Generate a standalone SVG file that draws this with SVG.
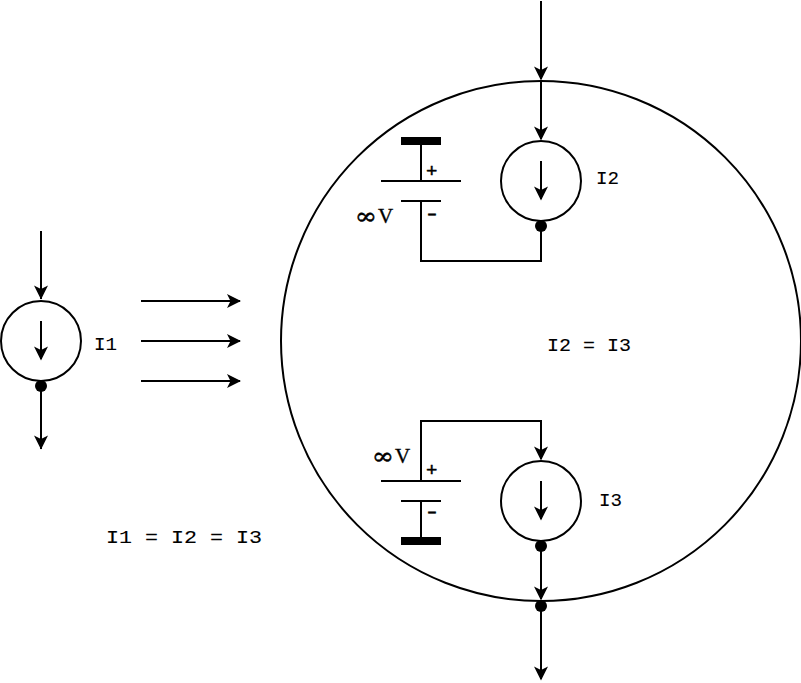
<svg xmlns="http://www.w3.org/2000/svg" width="801" height="683" viewBox="0 0 801 683">
<style>
.w{fill:none;stroke:#000;stroke-width:2}
.f{fill:#fff;stroke:#000;stroke-width:2}
.d{fill:#000;stroke:none}
.a{fill:#000;stroke:none}
.m{font-family:"Liberation Mono",monospace;font-size:18px;fill:#000;stroke:#000;stroke-width:.1}
.p{font-family:"Liberation Mono",monospace;font-size:19px;fill:#000;stroke:#000;stroke-width:.5}
.s{font-family:"Liberation Serif",serif;font-size:21px;fill:#000;stroke:#000;stroke-width:.3}
.i{font-family:"DejaVu Serif",serif;font-size:23px;fill:#000;stroke:#000;stroke-width:.5}
</style>
<defs>
<path id="ah" class="a" d="M0 0.500 L-7 -13.500 L0 -10 L7 -13.500 Z"/>
<path id="ar" class="a" d="M0 0 L-14 -7 L-10.500 0 L-14 7 Z"/>
</defs>
<rect width="801" height="683" fill="#fff"/>
<g id="outer-circle"><circle class="f" cx="541" cy="341" r="260"/></g>
<g id="connectors">
<path class="w" d="M41 231V299"/><use href="#ah" x="41" y="299"/>
<path class="w" d="M41 386V449"/><use href="#ah" x="41" y="449"/>
<path class="w" d="M141 301H240"/><use href="#ar" x="241" y="301"/>
<path class="w" d="M141 341H240"/><use href="#ar" x="241" y="341"/>
<path class="w" d="M141 381H240"/><use href="#ar" x="241" y="381"/>
<path class="w" d="M541 1V79"/><use href="#ah" x="541" y="80"/>
<path class="w" d="M541 80V139"/><use href="#ah" x="541" y="140"/>
<path class="w" d="M421 201V261H541V226"/>
<path class="w" d="M421 481V421H541V459"/><use href="#ah" x="541" y="460"/>
<path class="w" d="M541 546V599"/><use href="#ah" x="541" y="600"/>
<path class="w" d="M541 606V679"/><use href="#ah" x="541" y="680"/>
</g>
<g id="source-i1">
<circle class="f" cx="41" cy="341" r="40"/>
<path class="w" d="M41 321V359"/><use href="#ah" x="41" y="360"/>
<circle class="d" cx="41" cy="386" r="6"/>
<text class="m" x="94" y="350" textLength="23" lengthAdjust="spacingAndGlyphs">I1</text>
</g>
<g id="source-i2">
<circle class="f" cx="541" cy="181" r="40"/>
<path class="w" d="M541 161V199"/><use href="#ah" x="541" y="200"/>
<circle class="d" cx="541" cy="226" r="6"/>
<text class="m" x="596" y="184" textLength="23" lengthAdjust="spacingAndGlyphs">I2</text>
</g>
<g id="source-i3">
<circle class="f" cx="541" cy="501" r="40"/>
<path class="w" d="M541 481V519"/><use href="#ah" x="541" y="520"/>
<circle class="d" cx="541" cy="546" r="6"/>
<text class="m" x="599" y="506" textLength="23" lengthAdjust="spacingAndGlyphs">I3</text>
</g>
<g id="battery-top">
<rect class="d" x="401" y="137" width="40" height="8"/>
<path class="w" d="M421 141V181M381 181H461M401 201H441"/>
<text class="p" x="426" y="177">+</text>
<text class="p" x="424" y="220" textLength="16" lengthAdjust="spacingAndGlyphs">-</text>
<text class="i" x="355" y="224" textLength="22" lengthAdjust="spacingAndGlyphs">∞</text>
<text class="s" x="378" y="223">V</text>
</g>
<g id="battery-bottom">
<rect class="d" x="401" y="537" width="40" height="8"/>
<path class="w" d="M421 501V541M381 481H461M401 501H441"/>
<text class="p" x="426" y="476">+</text>
<text class="p" x="424" y="518" textLength="16" lengthAdjust="spacingAndGlyphs">-</text>
<text class="i" x="372" y="464" textLength="22" lengthAdjust="spacingAndGlyphs">∞</text>
<text class="s" x="395" y="463">V</text>
</g>
<g id="labels">
<text class="m" x="547" y="351" textLength="84" lengthAdjust="spacingAndGlyphs">I2 = I3</text>
<text class="m" x="106" y="543" textLength="156" lengthAdjust="spacingAndGlyphs">I1 = I2 = I3</text>
</g>
<g id="junction"><circle class="d" cx="541" cy="606" r="6"/></g>
</svg>
